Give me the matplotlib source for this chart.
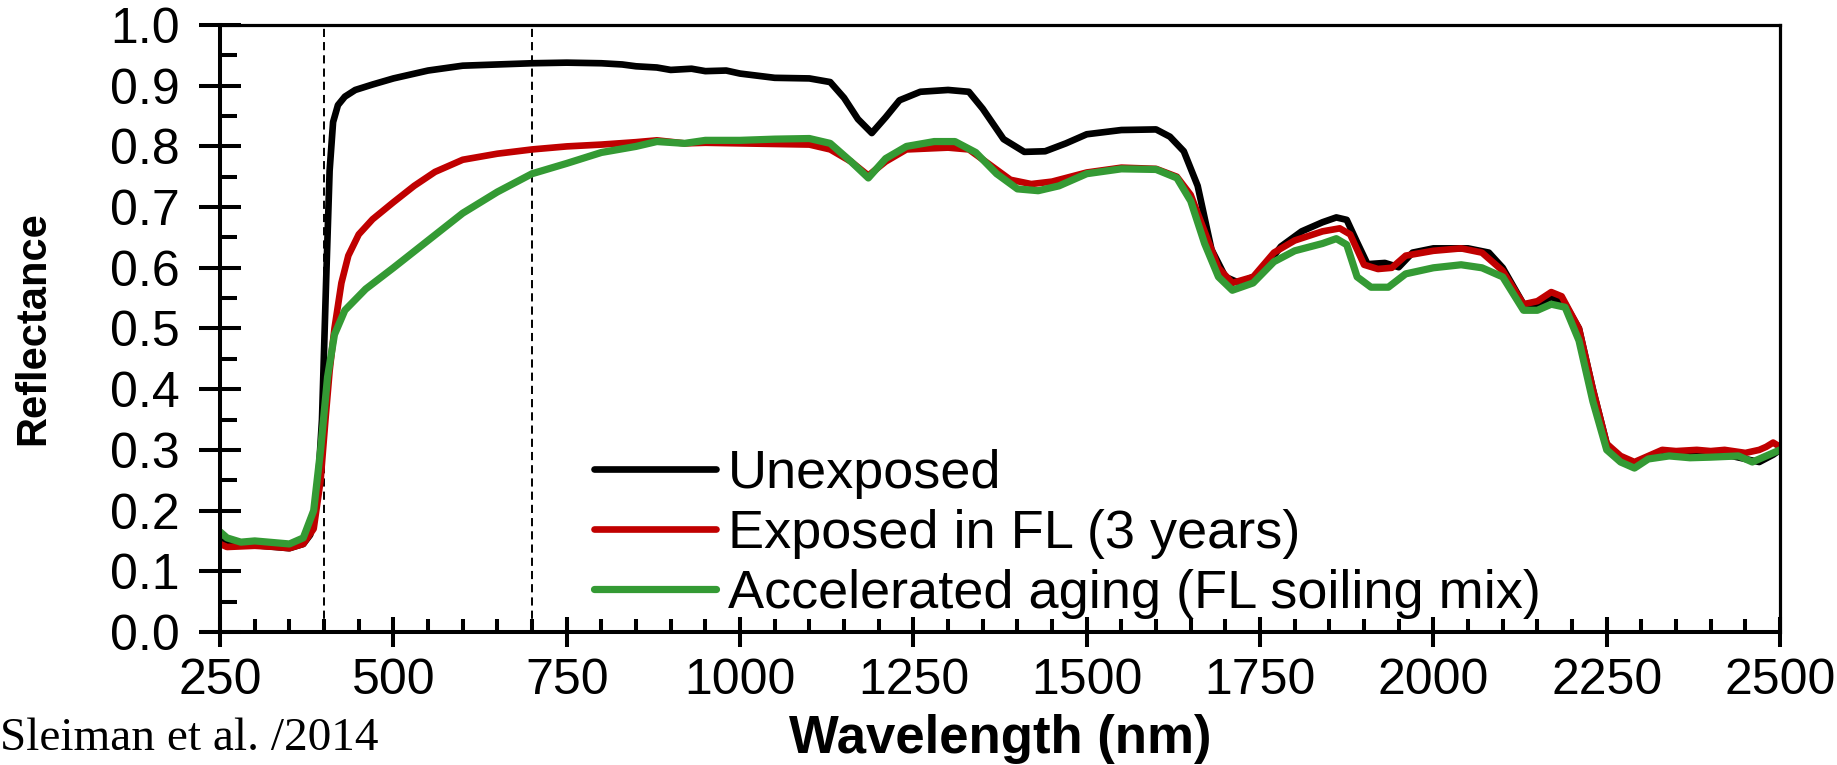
import matplotlib.pyplot as plt
from matplotlib.ticker import MultipleLocator, FormatStrFormatter

plt.rcParams['font.family'] = ['Liberation Sans', 'DejaVu Sans']

# reflectance spectra (wavelength in nm)
wl_unexposed = [250, 270, 300, 330, 350, 370, 380, 390, 397, 403, 408, 413, 420, 430, 445,
                470, 500, 550, 600, 650, 700, 750, 800, 830, 850, 880, 900, 930, 950, 980,
                1000, 1050, 1100, 1130, 1150, 1170, 1190, 1210, 1230, 1260, 1300, 1330,
                1350, 1380, 1410, 1440, 1470, 1500, 1550, 1600, 1620, 1640, 1660, 1680,
                1700, 1720, 1750, 1780, 1810, 1840, 1860, 1875, 1890, 1905, 1930, 1950,
                1970, 2000, 2050, 2080, 2100, 2130, 2150, 2170, 2190, 2210, 2230, 2250,
                2270, 2290, 2310, 2330, 2360, 2400, 2430, 2450, 2470, 2490, 2500]
r_unexposed = [0.150, 0.143, 0.143, 0.140, 0.138, 0.145, 0.160, 0.220, 0.350, 0.580, 0.760, 0.840,
               0.868, 0.882, 0.893, 0.902, 0.912, 0.925, 0.933, 0.935, 0.937, 0.938, 0.937,
               0.935, 0.932, 0.930, 0.926, 0.928, 0.924, 0.925, 0.920, 0.913, 0.912, 0.906,
               0.880, 0.845, 0.822, 0.848, 0.876, 0.890, 0.893, 0.890, 0.862, 0.812, 0.791,
               0.792, 0.805, 0.820, 0.827, 0.828, 0.816, 0.792, 0.735, 0.630, 0.585, 0.575,
               0.590, 0.635, 0.660, 0.675, 0.683, 0.679, 0.642, 0.606, 0.608, 0.601, 0.625,
               0.632, 0.632, 0.625, 0.600, 0.540, 0.540, 0.552, 0.540, 0.500, 0.400, 0.310,
               0.285, 0.276, 0.288, 0.293, 0.295, 0.292, 0.290, 0.285, 0.280, 0.292, 0.300]

wl_exposed = [250, 260, 300, 330, 350, 370, 385, 395, 402, 408, 415, 425, 435, 450, 470, 500,
              530, 560, 600, 650, 700, 750, 800, 850, 880, 920, 950, 1000, 1050, 1100, 1130,
              1160, 1185, 1210, 1240, 1300, 1330, 1360, 1390, 1420, 1450, 1500, 1550, 1600,
              1630, 1650, 1670, 1690, 1710, 1740, 1770, 1800, 1840, 1865, 1880, 1900, 1920,
              1940, 1960, 2000, 2040, 2070, 2100, 2130, 2150, 2170, 2185, 2210, 2230, 2250,
              2270, 2290, 2310, 2330, 2350, 2380, 2400, 2420, 2450, 2470, 2480, 2490, 2500]
r_exposed = [0.145, 0.140, 0.142, 0.140, 0.138, 0.145, 0.170, 0.250, 0.350, 0.430, 0.500, 0.575,
             0.620, 0.655, 0.680, 0.708, 0.735, 0.758, 0.778, 0.788, 0.795, 0.800, 0.803,
             0.807, 0.810, 0.805, 0.806, 0.805, 0.804, 0.803, 0.795, 0.775, 0.752, 0.775,
             0.795, 0.798, 0.795, 0.770, 0.745, 0.738, 0.742, 0.757, 0.765, 0.763, 0.750,
             0.720, 0.660, 0.600, 0.575, 0.585, 0.625, 0.645, 0.660, 0.665, 0.655, 0.605,
             0.598, 0.600, 0.620, 0.628, 0.632, 0.625, 0.595, 0.540, 0.545, 0.560, 0.553,
             0.500, 0.400, 0.310, 0.290, 0.280, 0.290, 0.300, 0.298, 0.300, 0.298, 0.300,
             0.295, 0.300, 0.305, 0.312, 0.305]

wl_aged = [250, 260, 280, 300, 320, 350, 370, 385, 395, 405, 415, 430, 460, 500, 550, 600, 650,
           700, 750, 800, 850, 880, 920, 950, 1000, 1050, 1100, 1130, 1160, 1185, 1210, 1240,
           1280, 1310, 1340, 1370, 1400, 1430, 1460, 1500, 1550, 1600, 1630, 1650, 1670,
           1690, 1710, 1740, 1770, 1800, 1840, 1860, 1875, 1890, 1910, 1935, 1960, 2000,
           2040, 2070, 2100, 2130, 2150, 2170, 2190, 2210, 2230, 2250, 2270, 2290, 2310,
           2340, 2370, 2400, 2440, 2460, 2480, 2500]
r_aged = [0.165, 0.155, 0.148, 0.150, 0.148, 0.145, 0.155, 0.200, 0.300, 0.420, 0.490, 0.530,
          0.565, 0.600, 0.645, 0.690, 0.725, 0.755, 0.772, 0.790, 0.800, 0.808, 0.805, 0.810,
          0.810, 0.812, 0.813, 0.805, 0.775, 0.748, 0.780, 0.800, 0.808, 0.808, 0.790,
          0.755, 0.730, 0.727, 0.735, 0.755, 0.763, 0.762, 0.748, 0.710, 0.640, 0.585,
          0.563, 0.575, 0.610, 0.628, 0.640, 0.648, 0.638, 0.585, 0.568, 0.568, 0.590,
          0.600, 0.605, 0.600, 0.585, 0.530, 0.530, 0.540, 0.535, 0.480, 0.380, 0.300,
          0.280, 0.270, 0.285, 0.290, 0.287, 0.288, 0.290, 0.280, 0.290, 0.300]

series = [
    ('Unexposed', wl_unexposed, r_unexposed, 'black', 4.8),
    ('Exposed in FL (3 years)', wl_exposed, r_exposed, '#c00000', 4.8),
    ('Accelerated aging (FL soiling mix)', wl_aged, r_aged, '#349a34', 5.2),
]

fig = plt.figure(figsize=(18.37, 7.65), dpi=100)
ax = fig.add_axes([0.1198, 0.1739, 0.8492, 0.7934])

for label, x, y, color, lw in series:
    ax.plot(x, y, color=color, lw=lw, label=label,
            solid_capstyle='round', solid_joinstyle='round')

for xv in [400, 700]:
    ax.axvline(xv, color='black', lw=1.4, ls=(0, (4.2, 2.6)), zorder=1)

ax.set_xlim(250, 2500)
ax.set_ylim(0, 1.0)
ax.xaxis.set_major_locator(MultipleLocator(250))
ax.xaxis.set_minor_locator(MultipleLocator(50))
ax.yaxis.set_major_locator(MultipleLocator(0.1))
ax.yaxis.set_minor_locator(MultipleLocator(0.05))
ax.yaxis.set_major_formatter(FormatStrFormatter('%.1f'))

ax.tick_params(axis='y', which='major', direction='inout', length=30, width=2.9,
               labelsize=36, pad=14)
ax.tick_params(axis='y', which='minor', direction='in', length=12, width=2.9)
ax.tick_params(axis='x', which='major', direction='inout', length=21.6, width=2.9,
               labelsize=36, pad=8)
ax.tick_params(axis='x', which='minor', direction='in', length=9.4, width=2.9)

for side in ['left', 'bottom']:
    ax.spines[side].set_linewidth(2.9)
for side in ['top', 'right']:
    ax.spines[side].set_linewidth(2.3)

ax.set_xlabel('Wavelength (nm)', fontsize=38, fontweight='bold')
ax.xaxis.set_label_coords(0.5, -0.135)
ax.set_ylabel('Reflectance', fontsize=30, fontweight='bold')
ax.yaxis.set_label_coords(-0.107, 0.5)

ax.legend(loc='center left', bbox_to_anchor=(0.240, 0.1616), frameon=False,
          fontsize=39, handlelength=2.25, handletextpad=0.22, labelspacing=0.18,
          borderpad=0, borderaxespad=0)

fig.text(0.0, 0.0196, 'Sleiman et al. /2014', fontsize=34,
         family=['Liberation Serif', 'DejaVu Serif'], va='baseline', ha='left')

fig.savefig('out.png', dpi=100)
